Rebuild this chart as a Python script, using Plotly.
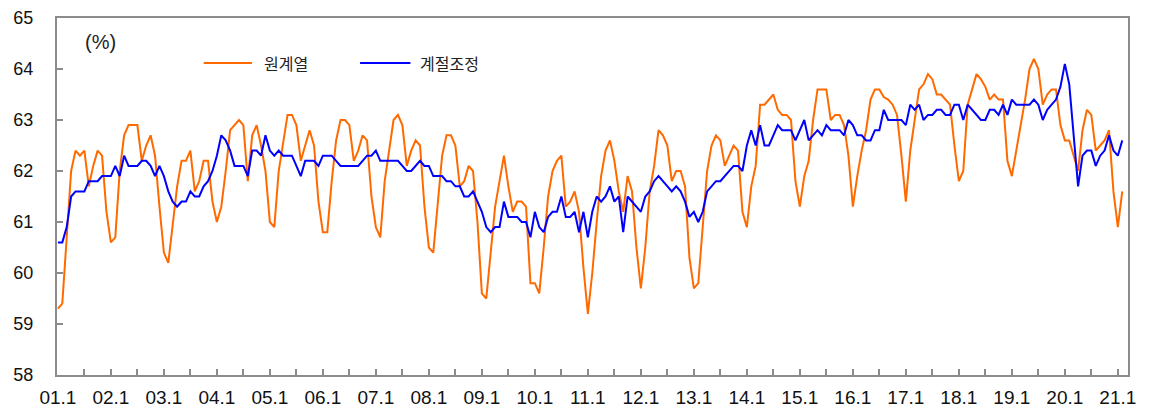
import plotly.graph_objects as go

# monthly labour force participation rate, 2001.1 - 2021.2 (%)
orig_2001_2005 = [
    59.3, 59.4, 60.7, 62.0, 62.4, 62.3, 62.4, 61.7, 62.1, 62.4, 62.3, 61.2,
    60.6, 60.7, 62.0, 62.7, 62.9, 62.9, 62.9, 62.2, 62.5, 62.7, 62.3, 61.3,
    60.4, 60.2, 61.0, 61.7, 62.2, 62.2, 62.4, 61.6, 61.8, 62.2, 62.2, 61.4,
    61.0, 61.3, 62.0, 62.8, 62.9, 63.0, 62.9, 61.8, 62.7, 62.9, 62.5, 62.0,
    61.0, 60.9, 62.0, 62.6, 63.1, 63.1, 62.9, 62.2, 62.5, 62.8, 62.5, 61.4,
]
orig_2006_2010 = [
    60.8, 60.8, 61.8, 62.6, 63.0, 63.0, 62.9, 62.2, 62.4, 62.7, 62.6, 61.5,
    60.9, 60.7, 61.8, 62.4, 63.0, 63.1, 62.9, 62.1, 62.4, 62.6, 62.5, 61.3,
    60.5, 60.4, 61.3, 62.3, 62.7, 62.7, 62.5, 61.7, 61.8, 62.1, 62.0, 61.0,
    59.6, 59.5, 60.4, 61.3, 61.8, 62.3, 61.7, 61.2, 61.4, 61.4, 61.3, 59.8,
    59.8, 59.6, 60.5, 61.5, 62.0, 62.2, 62.3, 61.3, 61.4, 61.6, 61.2, 60.1,
]
orig_2011_2015 = [
    59.2, 60.0, 61.0, 61.9, 62.4, 62.6, 62.2, 61.6, 61.2, 61.9, 61.6, 60.5,
    59.7, 60.5, 61.6, 62.1, 62.8, 62.7, 62.5, 61.8, 62.0, 62.0, 61.7, 60.3,
    59.7, 59.8, 60.9, 62.0, 62.5, 62.7, 62.6, 62.1, 62.3, 62.5, 62.4, 61.2,
    60.9, 61.7, 62.1, 63.3, 63.3, 63.4, 63.5, 63.2, 63.1, 63.1, 63.0, 61.8,
    61.3, 61.9, 62.2, 63.0, 63.6, 63.6, 63.6, 63.0, 63.1, 63.1, 62.9, 62.3,
]
orig_2016_2021 = [
    61.3, 61.9, 62.4, 62.8, 63.4, 63.6, 63.6, 63.45, 63.4, 63.3, 63.1, 62.3,
    61.4, 62.4, 63.0, 63.6, 63.7, 63.9, 63.8, 63.5, 63.5, 63.4, 63.3, 62.5,
    61.8, 62.0, 63.3, 63.6, 63.9, 63.8, 63.65, 63.4, 63.5, 63.4, 63.4, 62.2,
    61.9, 62.4, 62.9, 63.4, 64.0, 64.2, 64.0, 63.3, 63.5, 63.6, 63.6, 62.9,
    62.6, 62.6, 62.3, 62.0, 62.8, 63.2, 63.1, 62.4, 62.5, 62.6, 62.8, 61.6,
    60.9, 61.6,
]

sa_2001_2005 = [
    60.6, 60.6, 60.9, 61.5, 61.6, 61.6, 61.6, 61.8, 61.8, 61.8, 61.9, 61.9,
    61.9, 62.1, 61.9, 62.3, 62.1, 62.1, 62.1, 62.2, 62.2, 62.1, 61.9, 62.1,
    61.9, 61.6, 61.4, 61.3, 61.4, 61.4, 61.6, 61.5, 61.5, 61.7, 61.8, 62.0,
    62.3, 62.7, 62.6, 62.4, 62.1, 62.1, 62.1, 61.9, 62.4, 62.4, 62.3, 62.7,
    62.4, 62.3, 62.4, 62.3, 62.3, 62.3, 62.1, 61.9, 62.2, 62.2, 62.2, 62.1,
]
sa_2006_2010 = [
    62.3, 62.3, 62.3, 62.2, 62.1, 62.1, 62.1, 62.1, 62.1, 62.2, 62.3, 62.3,
    62.4, 62.2, 62.2, 62.2, 62.2, 62.2, 62.1, 62.0, 62.0, 62.1, 62.2, 62.1,
    62.1, 61.9, 61.9, 61.9, 61.8, 61.8, 61.7, 61.7, 61.5, 61.5, 61.6, 61.4,
    61.2, 60.9, 60.8, 60.9, 60.9, 61.4, 61.1, 61.1, 61.1, 61.0, 61.0, 60.7,
    61.2, 60.9, 60.8, 61.1, 61.2, 61.2, 61.5, 61.1, 61.1, 61.2, 60.8, 61.2,
]
sa_2011_2015 = [
    60.7, 61.2, 61.5, 61.4, 61.5, 61.7, 61.4, 61.5, 60.8, 61.5, 61.4, 61.3,
    61.2, 61.5, 61.6, 61.8, 61.9, 61.8, 61.7, 61.6, 61.7, 61.6, 61.4, 61.1,
    61.2, 61.0, 61.2, 61.6, 61.7, 61.8, 61.8, 61.9, 62.0, 62.1, 62.1, 62.0,
    62.5, 62.8, 62.5, 62.9, 62.5, 62.5, 62.7, 62.9, 62.8, 62.8, 62.8, 62.6,
    62.8, 63.0, 62.6, 62.7, 62.8, 62.7, 62.9, 62.8, 62.8, 62.8, 62.7, 63.0,
]
sa_2016_2021 = [
    62.9, 62.7, 62.7, 62.6, 62.6, 62.8, 62.8, 63.2, 63.0, 63.0, 63.0, 63.0,
    62.9, 63.3, 63.2, 63.3, 63.0, 63.1, 63.1, 63.2, 63.2, 63.1, 63.1, 63.3,
    63.3, 63.0, 63.3, 63.2, 63.1, 63.0, 63.0, 63.2, 63.2, 63.1, 63.3, 63.1,
    63.4, 63.3, 63.3, 63.3, 63.3, 63.4, 63.3, 63.0, 63.2, 63.3, 63.4, 63.65,
    64.1, 63.7, 62.7, 61.7, 62.3, 62.4, 62.4, 62.1, 62.3, 62.4, 62.7, 62.4,
    62.3, 62.6,
]

year_labels = ['01.1', '02.1', '03.1', '04.1', '05.1', '06.1', '07.1', '08.1',
               '09.1', '10.1', '11.1', '12.1', '13.1', '14.1', '15.1', '16.1',
               '17.1', '18.1', '19.1', '20.1', '21.1']

orig = orig_2001_2005 + orig_2006_2010 + orig_2011_2015 + orig_2016_2021
sa = sa_2001_2005 + sa_2006_2010 + sa_2011_2015 + sa_2016_2021
months = list(range(len(orig)))

axis_color = '#8c8c8c'
orange = '#ff6a00'
blue = '#0000ff'
num_font = 'Liberation Sans, Arial, sans-serif'
kr_font = 'Noto Sans CJK KR, sans-serif'

fig = go.Figure()
fig.add_trace(go.Scatter(x=months, y=orig, mode='lines', name='원계열',
                         line=dict(color=orange, width=2)))
fig.add_trace(go.Scatter(x=months, y=sa, mode='lines', name='계절조정',
                         line=dict(color=blue, width=2)))

# legend drawn by hand so the line samples are as long as in the original
legend_y = 0.874
legend_items = [
    ('원계열', orange, 0.137, 0.182, 0.191),
    ('계절조정', blue, 0.283, 0.330, 0.337),
]
shapes = []
annotations = []
for label, color, lx0, lx1, tx in legend_items:
    shapes.append(dict(type='line', xref='paper', yref='paper',
                       x0=lx0, x1=lx1, y0=legend_y, y1=legend_y,
                       line=dict(color=color, width=2)))
    annotations.append(dict(text=label, x=tx, y=legend_y, xref='paper', yref='paper',
                            xanchor='left', yanchor='middle', showarrow=False,
                            font=dict(family=kr_font, size=16, color='#222')))
annotations.append(dict(text='(%)', x=0.041, y=0.933, xref='paper', yref='paper',
                        xanchor='center', yanchor='middle', showarrow=False,
                        font=dict(family=num_font, size=20, color='#222')))

# the page body has an 8px margin, so the figure is 8px smaller than the window
fig.update_layout(
    width=1148,
    height=401,
    margin=dict(l=49, r=28, t=10, b=34, autoexpand=False),
    paper_bgcolor='white',
    plot_bgcolor='white',
    showlegend=False,
    shapes=shapes,
    annotations=annotations,
)

fig.update_xaxes(
    range=[-0.2, 242.3],
    tickmode='array',
    tickvals=[12 * k for k in range(len(year_labels))],
    ticktext=year_labels,
    ticks='inside', ticklen=6, tickwidth=1.5, tickcolor=axis_color,
    minor=dict(tick0=0, dtick=6, ticks='inside', ticklen=6,
               tickwidth=1.5, tickcolor=axis_color),
    ticklabelstandoff=4,
    tickfont=dict(family=num_font, size=19, color='#111'),
    showline=True, linecolor=axis_color, linewidth=2, mirror=True,
    showgrid=False, zeroline=False, automargin=False,
)
fig.update_yaxes(
    range=[58, 65],
    dtick=1,
    ticks='inside', ticklen=6, tickwidth=1.5, tickcolor=axis_color,
    ticklabelstandoff=18,
    tickfont=dict(family=num_font, size=18, color='#111'),
    showline=True, linecolor=axis_color, linewidth=2, mirror=True,
    showgrid=False, zeroline=False, automargin=False,
)

fig.write_html('out.html')
